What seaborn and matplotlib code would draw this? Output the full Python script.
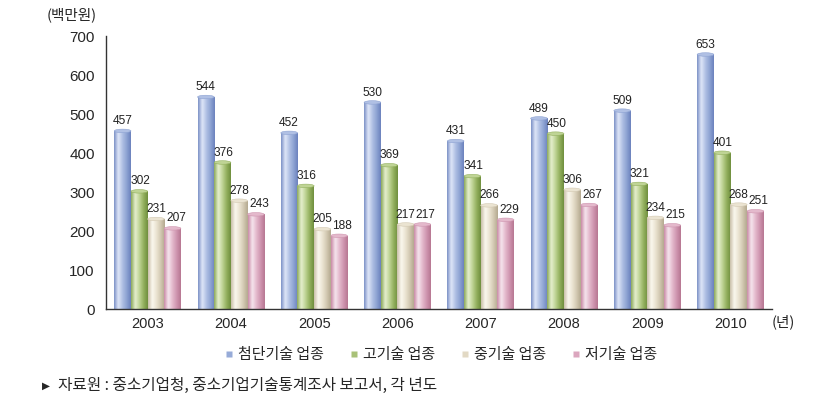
import numpy as np
import pandas as pd
import matplotlib
matplotlib.use("Agg")
import matplotlib.pyplot as plt
from matplotlib.colors import LinearSegmentedColormap
from matplotlib.patches import Ellipse
from matplotlib.lines import Line2D
import seaborn as sns

years = ["2003", "2004", "2005", "2006", "2007", "2008", "2009", "2010"]
series = ["첨단기술 업종", "고기술 업종", "중기술 업종", "저기술 업종"]
v_adv = [457, 544, 452, 530, 431, 489, 509, 653]
v_high = [302, 376, 316, 369, 341, 450, 321, 401]
v_mid = [231, 278, 205, 217, 266, 306, 234, 268]
v_low = [207, 243, 188, 217, 229, 267, 215, 251]
y_ticks = [0, 100, 200, 300, 400, 500, 600, 700]

values = [v_adv, v_high, v_mid, v_low]
base_colors = ["#97abd8", "#a9c178", "#e2d9c4", "#dba6be"]
grad_colors = [
    ["#7b90c6", "#dfe7f8", "#b0c0e4", "#8ea3d3", "#6b82bd"],
    ["#8ba85a", "#e6f0cf", "#bfd495", "#93b05e", "#6f8f3e"],
    ["#c9bfa8", "#fbf8ef", "#ebe4d2", "#d3c9b2", "#b4a98f"],
    ["#c98aa6", "#f6e6ee", "#e4b9cc", "#cf95af", "#b77792"],
]
label_dx = [0.0, 0.01, 0.0, 0.04]

df = pd.DataFrame({
    "year": years * 4,
    "series": sum([[s] * len(years) for s in series], []),
    "value": sum(values, []),
})

sns.set_theme(style="white")
plt.rcParams["font.family"] = ["Noto Sans CJK KR", "DejaVu Sans"]
NUM_FONT = ["Liberation Sans", "DejaVu Sans"]

fig = plt.figure(figsize=(8.24, 4.11), dpi=100)
ax = fig.add_axes([0.1286, 0.248, 0.8084, 0.664])

sns.barplot(data=df, x="year", y="value", hue="series", order=years,
            hue_order=series, palette=base_colors, saturation=1, width=0.8,
            ax=ax, legend=False, edgecolor="none")

# cylinder-like gradient on bars
for ci, cont in enumerate(ax.containers):
    cmap = LinearSegmentedColormap.from_list(f"g{ci}", grad_colors[ci])
    grad = np.linspace(0, 1, 64).reshape(1, -1)
    for bar in cont:
        x0 = bar.get_x()
        w = bar.get_width()
        h = bar.get_height()
        im = ax.imshow(grad, cmap=cmap, aspect="auto",
                       extent=[x0, x0 + w, 0, h], zorder=2,
                       interpolation="bicubic")
        im.set_clip_path(bar)
        cap = Ellipse((x0 + w / 2, h), w, 9, facecolor=grad_colors[ci][2],
                      edgecolor=grad_colors[ci][3], linewidth=0.4, zorder=3)
        ax.add_patch(cap)
        ax.text(x0 + w / 2 + label_dx[ci], h + 10, f"{int(h)}", ha="center",
                va="bottom", fontsize=8.6, color="#222222",
                family=NUM_FONT, zorder=4)

ax.set_xlim(-0.5, len(years) - 0.5)
ax.set_ylim(0, 700)

for s in ["top", "right"]:
    ax.spines[s].set_visible(False)
for s in ["left", "bottom"]:
    ax.spines[s].set_color("#333333")
    ax.spines[s].set_linewidth(1.0)

ax.set_yticks(y_ticks)
ax.set_yticklabels([str(t) for t in y_ticks], fontsize=11, family=NUM_FONT)
ax.tick_params(axis="y", direction="out", length=4, width=1,
               color="#333333", pad=4)
ax.set_xticks(range(len(years)))
ax.set_xticklabels(years, fontsize=10.5, family=NUM_FONT)
ax.tick_params(axis="x", which="major", length=0, pad=6)
ax.set_xticks(np.arange(-0.5, len(years), 1), minor=True)
ax.tick_params(axis="x", which="minor", direction="inout", length=6,
               width=1, color="#333333")
ax.set_xlabel("")
ax.set_ylabel("")

fig.text(72 / 824, 1 - 15 / 411, "(백만원)", ha="center", va="center",
         fontsize=10.5)
fig.text(783 / 824, 1 - 322 / 411, "(년)", ha="center", va="center",
         fontsize=10.5)

handles = [Line2D([0], [0], marker="s", linestyle="none", markersize=5,
                  markerfacecolor=c, markeredgecolor="none")
           for c in base_colors]
fig.legend(handles, series, loc="center",
           bbox_to_anchor=(440 / 824, 1 - 355 / 411),
           ncol=4, frameon=False, fontsize=10.8, handletextpad=0.2,
           columnspacing=1.6, handlelength=0.8)

fig.text(42 / 824, 1 - 386 / 411, "▶", ha="left", va="center",
         fontsize=7.5, family=["DejaVu Sans"])
fig.text(58 / 824, 1 - 385 / 411,
         "자료원 : 중소기업청, 중소기업기술통계조사 보고서, 각 년도",
         ha="left", va="center", fontsize=11.3)

fig.savefig("out.png", dpi=100)
